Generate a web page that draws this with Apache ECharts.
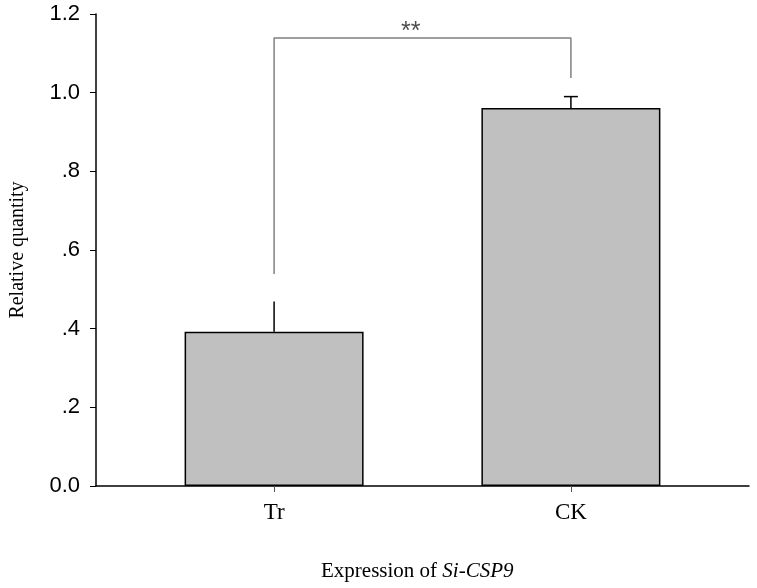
<!DOCTYPE html>
<html>
<head>
<meta charset="utf-8">
<script src="https://cdn.jsdelivr.net/npm/echarts@6/dist/echarts.min.js"></script>
<style>html,body{margin:0;padding:0;background:#fff}#c{width:757px;height:588px}</style>
</head>
<body>
<div id="c"></div>
<script>
// ---- data ----
const categories = ['Tr', 'CK'];
const categoryPos = [1, 2];
const means = [0.392, 0.961];
const errors = [0.077, 0.029];
const yTicks = [0, 0.2, 0.4, 0.6, 0.8, 1.0, 1.2];
const bracketEnds = [0.539, 1.037];   // lower ends of the significance bracket (Tr side, CK side)
const bracketTop = 1.139;
const sigLabel = '**';
const sigLabelX = 1.46;

// ---- style constants ----
const capHalf = [0, 7]; // Tr bar shows no cap, CK has a small cap

const chart = echarts.init(document.getElementById('c'), null, {renderer: 'canvas'});

const barData = categoryPos.map((x, i) => [x, means[i]]);
const errData = categoryPos.map((x, i) => [x, means[i], means[i] + errors[i], i]);
const bracketData = [
  [categoryPos[0], bracketEnds[0]],
  [categoryPos[0], bracketTop],
  [categoryPos[1], bracketTop],
  [categoryPos[1], bracketEnds[1]]
];

const option = {
  animation: false,
  backgroundColor: '#fff',
  title: {
    text: '{n|Expression of }{i|Si-CSP9}',
    left: 321,
    top: 561,
    textStyle: {
      fontWeight: 'normal',
      rich: {
        n: {fontFamily: 'Liberation Serif', fontSize: 21, fontWeight: 'normal', color: '#000'},
        i: {fontFamily: 'Liberation Serif', fontSize: 21, fontWeight: 'normal', fontStyle: 'italic', color: '#000'}
      }
    },
    padding: 0
  },
  grid: {left: 93, right: 8, top: 14, bottom: 102, containLabel: false},
  xAxis: {
    type: 'value',
    min: 0.4,
    max: 2.6,
    splitLine: {show: false},
    axisLine: {lineStyle: {color: '#000', width: 1.5}},
    axisTick: {show: true, customValues: categoryPos, length: 6, lineStyle: {color: '#555', width: 1}},
    axisLabel: {
      customValues: categoryPos,
      margin: 15,
      fontFamily: 'Liberation Serif',
      fontSize: 23,
      color: '#000',
      formatter: v => categories[categoryPos.indexOf(Math.round(v))] || ''
    }
  },
  yAxis: {
    type: 'value',
    min: 0,
    max: 1.2,
    interval: 0.2,
    name: 'Relative quantity',
    nameLocation: 'middle',
    nameGap: 68,
    nameTextStyle: {fontFamily: 'Liberation Serif', fontSize: 20, color: '#000'},
    splitLine: {show: false},
    axisLine: {show: true, lineStyle: {color: '#000', width: 1.5}},
    axisTick: {show: true, length: 6, lineStyle: {color: '#000', width: 1}},
    axisLabel: {
      margin: 16,
      fontFamily: 'Liberation Sans',
      fontSize: 22,
      color: '#000',
      formatter: v => {
        const r = Math.round(v * 10) / 10;
        if (r === 0) return '0.0';
        if (r < 1) return '.' + Math.round(r * 10);
        return r.toFixed(1);
      }
    }
  },
  series: [
    {
      type: 'bar',
      data: barData,
      barWidth: 179,
      itemStyle: {color: '#c0c0c0', borderColor: '#000', borderWidth: 1.5},
      z: 2
    },
    {
      type: 'custom',
      data: errData,
      z: 3,
      renderItem: (params, api) => {
        const x = api.value(0);
        const lo = api.coord([x, api.value(1)]);
        const hi = api.coord([x, api.value(2)]);
        const idx = api.value(3);
        const children = [{
          type: 'line',
          shape: {x1: lo[0], y1: lo[1], x2: hi[0], y2: hi[1]},
          style: {stroke: '#000', lineWidth: 1.5}
        }];
        if (capHalf[idx] > 0) {
          children.push({
            type: 'line',
            shape: {x1: hi[0] - capHalf[idx], y1: hi[1], x2: hi[0] + capHalf[idx], y2: hi[1]},
            style: {stroke: '#000', lineWidth: 1.5}
          });
        }
        return {type: 'group', children};
      }
    },
    {
      type: 'line',
      data: bracketData,
      symbol: 'none',
      lineStyle: {color: '#808080', width: 1.5},
      z: 4
    },
    {
      type: 'scatter',
      data: [[sigLabelX, bracketTop]],
      symbolSize: 2,
      itemStyle: {color: 'rgba(0,0,0,0)'},
      label: {
        show: true,
        position: 'top',
        distance: 3,
        offset: [0, 11],
        formatter: sigLabel,
        fontFamily: 'Liberation Sans',
        fontSize: 25,
        color: '#222'
      },
      z: 5
    }
  ]
};
chart.setOption(option);
</script>
</body>
</html>
